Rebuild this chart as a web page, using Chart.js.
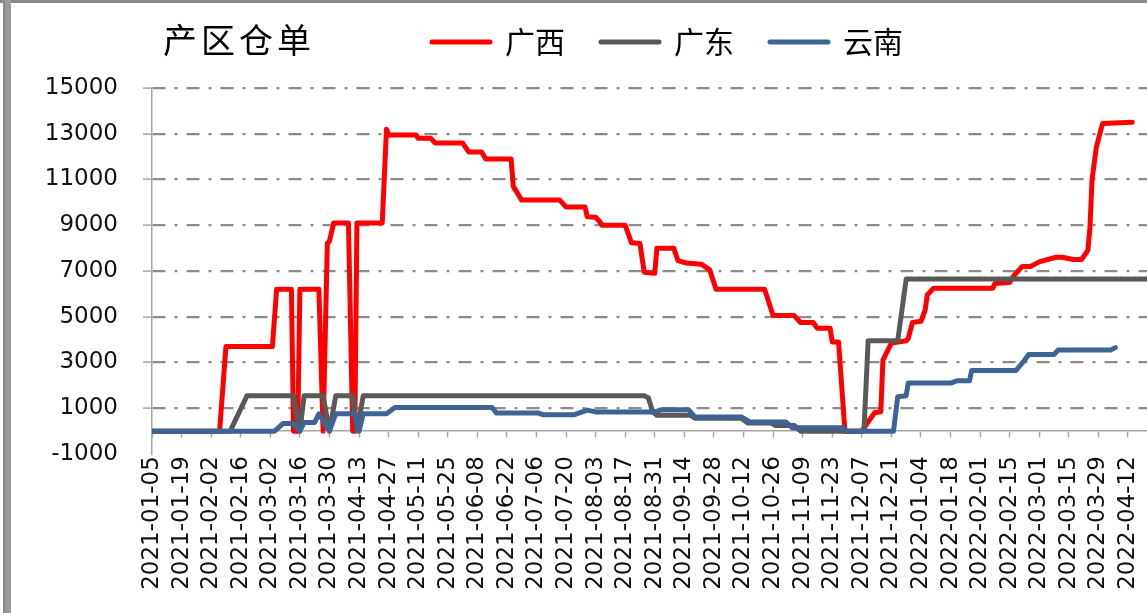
<!DOCTYPE html>
<html>
<head>
<meta charset="utf-8">
<script src="https://cdn.jsdelivr.net/npm/chart.js@4.4.1/dist/chart.umd.min.js"></script>
<style>
  body { margin: 0; background: #fff; }
  #wrap { position: relative; width: 1147px; height: 613px; overflow: hidden; }
  #title { position: absolute; left: 163px; top: 22px; font: 34px/1 "Noto Sans CJK SC", sans-serif; letter-spacing: 4px; color: #000; }
  #frameTop { position: absolute; left: 0; top: 0; width: 1147px; height: 3px; background: #8a8a8a; }
  #frameLeft { position: absolute; left: 3px; top: 0; width: 2px; height: 613px; border-right: 2px solid #9a9a9a; border-left: 0; background: #8a8a8a; box-shadow: 4px 0 0 #9a9a9a; }
</style>
</head>
<body>
<div id="wrap">
  <canvas id="chart" width="1147" height="613"></canvas>
  <div id="title">产区仓单</div>
  <div id="frameTop"></div>
  <div id="frameLeft"></div>
</div>
<script>
// 广西
var gxDates = ['2021-01-05','2021-02-06','2021-02-09','2021-03-03','2021-03-05','2021-03-12','2021-03-13','2021-03-15','2021-03-16','2021-03-25',
  '2021-03-27','2021-03-29','2021-03-30','2021-04-01','2021-04-08','2021-04-10','2021-04-11','2021-04-12','2021-04-24','2021-04-26',
  '2021-04-27','2021-05-10','2021-05-11','2021-05-17','2021-05-19','2021-06-01','2021-06-04','2021-06-10','2021-06-12','2021-06-24',
  '2021-06-25','2021-06-29','2021-07-17','2021-07-20','2021-07-29','2021-07-30','2021-08-03','2021-08-05','2021-08-06','2021-08-17',
  '2021-08-20','2021-08-24','2021-08-26','2021-08-31','2021-09-01','2021-09-09','2021-09-11','2021-09-15','2021-09-22','2021-09-26',
  '2021-09-29','2021-10-22','2021-10-26','2021-11-05','2021-11-08','2021-11-14','2021-11-16','2021-11-22','2021-11-23','2021-11-26',
  '2021-11-29','2021-12-07','2021-12-13','2021-12-16','2021-12-17','2021-12-21','2021-12-28','2021-12-29','2021-12-31','2022-01-04',
  '2022-01-06','2022-01-07','2022-01-10','2022-02-07','2022-02-08','2022-02-15','2022-02-17','2022-02-21','2022-02-25','2022-03-01',
  '2022-03-03','2022-03-09','2022-03-12','2022-03-17','2022-03-21','2022-03-24','2022-03-25','2022-03-26','2022-03-28','2022-03-31',
  '2022-04-14'];
var gxValues = [0,0,3700,3700,6200,6200,0,0,6200,6200,
  0,8200,8300,9100,9100,0,0,9100,9100,13200,
  12950,12950,12800,12800,12600,12600,12200,12200,11900,11900,
  10700,10100,10100,9800,9800,9370,9350,9150,9000,9000,
  8230,8200,6950,6900,8000,8000,7450,7350,7300,7050,
  6200,6200,5050,5050,4750,4750,4500,4500,3900,3900,
  0,0,800,850,3100,3850,3950,4050,4750,4800,
  5300,5950,6250,6250,6450,6500,6800,7200,7200,7400,
  7450,7600,7600,7500,7500,7900,8900,11000,12400,13450,
  13500];

// 广东
var gdDates = ['2021-01-05','2021-02-11','2021-02-19','2021-03-13','2021-03-16','2021-03-18','2021-03-27','2021-03-30','2021-04-02','2021-04-10',
  '2021-04-12','2021-04-15','2021-08-26','2021-08-28','2021-08-30','2021-09-01','2021-09-17','2021-09-19','2021-10-11','2021-10-14',
  '2021-10-25','2021-10-27','2021-11-05','2021-11-08','2021-12-08','2021-12-10','2021-12-24','2021-12-28','2022-04-22'];
var gdValues = [0,0,1550,1550,0,1550,1550,0,1550,1550,
  0,1550,1550,1450,850,690,690,560,560,350,
  350,250,250,0,0,3950,3950,6650,6650];

// 云南
var ynDates = ['2021-01-05','2021-03-04','2021-03-08','2021-03-13','2021-03-16','2021-03-18','2021-03-23','2021-03-25','2021-03-30','2021-04-02',
  '2021-04-11','2021-04-13','2021-04-15','2021-04-26','2021-04-30','2021-06-15','2021-06-17','2021-07-07','2021-07-09','2021-07-24',
  '2021-07-30','2021-08-03','2021-08-31','2021-09-03','2021-09-16','2021-09-19','2021-10-11','2021-10-15','2021-11-01','2021-11-04',
  '2021-11-28','2021-11-30','2021-12-22','2021-12-24','2021-12-28','2021-12-29','2022-01-18','2022-01-21','2022-01-27','2022-01-28',
  '2022-02-18','2022-02-22','2022-02-24','2022-03-08','2022-03-10','2022-04-04','2022-04-06'];
var ynValues = [0,0,330,330,0,380,380,760,0,760,
  760,0,760,760,1030,1030,790,790,720,720,
  920,840,840,930,930,620,620,400,400,150,
  150,0,0,1500,1550,2100,2100,2200,2200,2650,
  2650,3100,3350,3350,3550,3550,3650];

var startDate = '2021-01-05';
var endDay = 471;
var yTicksMin = -1000, yTicksMax = 15000, yStep = 2000;

var DAY = 86400000;
var base = Date.parse(startDate);
function dayOf(s) { return (Date.parse(s) - base) / DAY; }
function dateOf(d) { return new Date(base + d * DAY).toISOString().slice(0, 10); }
function points(dates, values) {
  return dates.map(function (d, i) { return { x: dayOf(d), y: values[i] }; });
}

// move the legend onto the title row
var legendOffset = {
  id: 'legendOffset',
  afterLayout: function (chart) {
    var lg = chart.legend;
    lg.left += 94; lg.right += 94;
    lg.top -= 21; lg.bottom -= 21;
  }
};

var ctx = document.getElementById('chart').getContext('2d');
var chart = new Chart(ctx, {
  type: 'line',
  data: {
    datasets: [
      { label: '广西', data: points(gxDates, gxValues), borderColor: '#ff0000', backgroundColor: '#ff0000', order: 3 },
      { label: '广东', data: points(gdDates, gdValues), borderColor: '#595959', backgroundColor: '#595959', order: 2 },
      { label: '云南', data: points(ynDates, ynValues), borderColor: '#3c6596', backgroundColor: '#3c6596', order: 1 },
    ],
  },
  options: {
    responsive: false,
    animation: false,
    devicePixelRatio: 1,
    datasets: {
      line: { borderWidth: 5, pointRadius: 0, tension: 0, borderJoinStyle: 'round', borderCapStyle: 'round' },
    },
    layout: { padding: { top: 12, left: 0, right: 0, bottom: 159 } },
    plugins: {
      tooltip: { enabled: false },
      legend: {
        position: 'top',
        labels: {
          boxWidth: 58,
          boxHeight: 0,
          padding: 36,
          color: '#000',
          font: { family: '"Noto Sans CJK SC"', size: 30 },
          sort: function (a, b) { return a.datasetIndex - b.datasetIndex; },
        },
      },
    },
    scales: {
      x: {
        type: 'linear',
        position: { y: 0 },
        min: 0,
        max: endDay,
        afterFit: function (scale) { scale.paddingLeft = 0; scale.paddingRight = 0; },
        border: { display: true, color: '#a6a6a6', width: 1.5 },
        grid: { display: true, drawOnChartArea: false, drawTicks: true, tickLength: 6, color: '#a6a6a6', tickWidth: 1.5 },
        ticks: {
          stepSize: 14,
          includeBounds: false,
          autoSkip: false,
          minRotation: 90,
          maxRotation: 90,
          padding: 19,
          color: '#111',
          font: { family: '"DejaVu Sans"', size: 23 },
          callback: function (v) { return dateOf(v); },
        },
      },
      y: {
        min: yTicksMin,
        max: yTicksMax,
        afterFit: function (scale) { scale.width = 152; },
        border: { display: true, color: '#a6a6a6', width: 1.5, dash: [13, 9, 3, 9] },
        grid: {
          lineWidth: 2.2,
          color: function (c) { return c.tick && c.tick.value === yTicksMin ? 'rgba(0,0,0,0)' : '#8c8c8c'; },
          tickColor: function (c) { return c.tick && c.tick.value === yTicksMin ? 'rgba(0,0,0,0)' : '#a6a6a6'; },
          tickLength: 9,
          tickWidth: 1.5,
          tickBorderDash: [],
        },
        ticks: {
          stepSize: yStep,
          padding: 25,
          color: '#111',
          font: { family: '"DejaVu Sans"', size: 23 },
          callback: function (v) { return String(v); },
        },
      },
    },
  },
  plugins: [legendOffset],
});
</script>
</body>
</html>
